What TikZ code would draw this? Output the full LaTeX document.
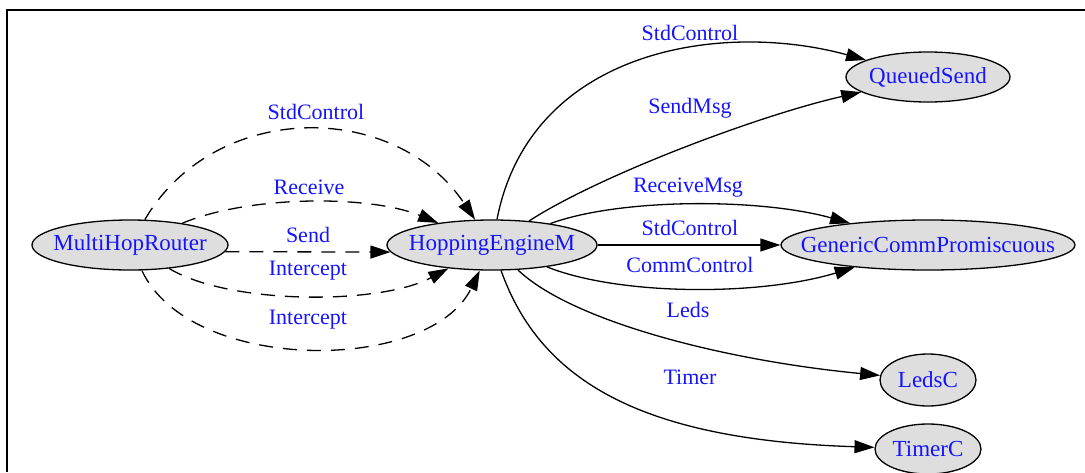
\documentclass[tikz,border=0pt]{standalone}
\usepackage{fontspec}
\setmainfont{Liberation Serif}
\usetikzlibrary{shapes.geometric,arrows.meta}
\definecolor{compgray}{RGB}{222,222,222}
\definecolor{wireblue}{RGB}{20,20,255}

\begin{document}
\begin{tikzpicture}[x=1pt,y=-1pt,
    comp/.style={ellipse, draw, fill=compgray, line width=1.3pt, inner sep=0pt,
                 label={[text=wireblue, font=\fontsize{23}{27}\selectfont, inner sep=0pt]center:#1}},
    wire/.style={line width=1.3pt, -{Triangle[length=20pt,width=13pt]}},
    uses/.style={wire, dash pattern=on 14pt off 10pt},
    lbl/.style={text=wireblue, font=\fontsize{22}{26}\selectfont, inner sep=0pt}]
    \useasboundingbox (0,0) rectangle (1085,472);

    % Frame
    \draw[line width=2pt] (6,10) -- (1085,10);
    \draw[line width=2pt] (7,9) -- (7,472);

    % Components
    \node[comp={MultiHopRouter}, minimum width=196pt, minimum height=50pt] (mhr) at (130,245) {};
    \node[comp={HoppingEngineM}, minimum width=210pt, minimum height=50pt] (hem) at (492,245) {};
    \node[comp={QueuedSend}, minimum width=164pt, minimum height=50pt] (qs) at (928,77) {};
    \node[comp={GenericCommPromiscuous}, minimum width=294pt, minimum height=50pt] (gcp) at (928,245) {};
    \node[comp={LedsC}, minimum width=96pt, minimum height=52pt] (leds) at (928,380) {};
    \node[comp={TimerC}, minimum width=106pt, minimum height=50pt] (timer) at (928,449) {};

    % Dashed wires from MultiHopRouter
    \draw[uses] (mhr) .. controls (215,100) and (395,100) .. (hem);
    \draw[uses] (mhr) .. controls (250,195) and (370,195) .. (hem);
    \draw[uses] (mhr.-4) -- (hem.184);
    \draw[uses] (mhr) .. controls (230,305) and (380,305) .. (hem);
    \draw[uses] (mhr) .. controls (190,374) and (430,374) .. (hem);
    \node[lbl] (lStdA) at (316,112) {StdControl};
    \node[lbl] (lRecv) at (309,187) {Receive};
    \node[lbl] (lSend) at (308,235) {Send};
    \node[lbl] (lIntA) at (308,271) {Intercept};
    \node[lbl] (lIntB) at (308,320) {Intercept};

    % Wires from HoppingEngineM
    \draw[wire] (hem) .. controls (530,50) and (720,20) .. (qs);
    \draw[wire] (hem) .. controls (600,175) and (760,115) .. (qs);
    \draw[wire] (hem) .. controls (620,198) and (760,198) .. (gcp);
    \draw[wire] (hem) -- (gcp);
    \draw[wire] (hem) .. controls (620,296) and (760,296) .. (gcp);
    \draw[wire] (hem) .. controls (570,320) and (720,360) .. (leds);
    \draw[wire] (hem) .. controls (540,380) and (640,440) .. (timer);
    \node[lbl] (lStdB) at (690,33) {StdControl};
    \node[lbl] (lSMsg) at (690,108) {SendMsg};
    \node[lbl] (lRMsg) at (688,188) {ReceiveMsg};
    \node[lbl] (lStdC) at (690,228) {StdControl};
    \node[lbl] (lComm) at (690,265) {CommControl};
    \node[lbl] (lLeds) at (688,310) {Leds};
    \node[lbl] (lTime) at (690,377) {Timer};
\end{tikzpicture}
\end{document}
